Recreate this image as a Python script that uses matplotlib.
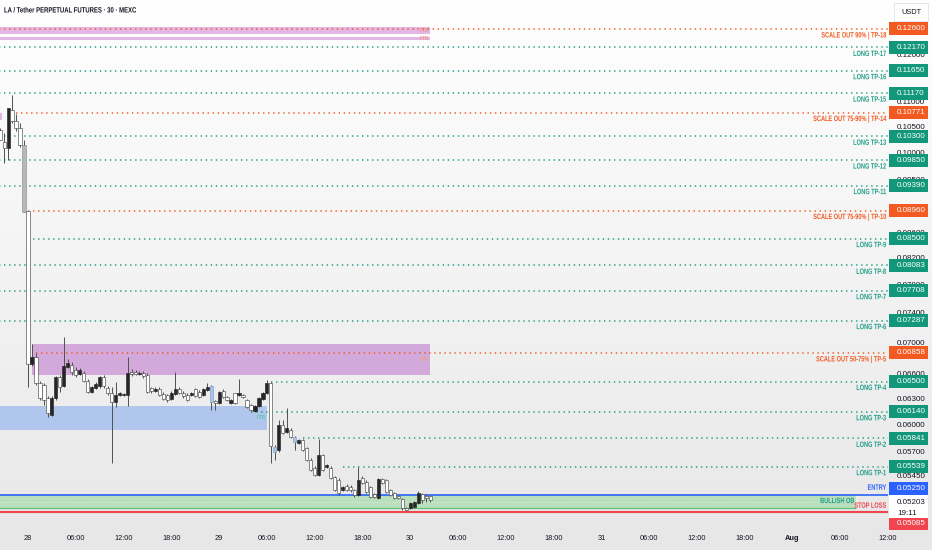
import numpy as np
import pandas as pd
import matplotlib
matplotlib.use('Agg')
import matplotlib.pyplot as plt
import matplotlib.dates as mdates
from matplotlib.patches import Rectangle
from matplotlib.patheffects import AbstractPathEffect
from matplotlib.transforms import IdentityTransform, blended_transform_factory, Affine2D

plt.rcParams['font.family'] = ['Liberation Sans', 'DejaVu Sans']

# ---------------- data ----------------
title = "LA / Tether PERPETUAL FUTURES · 30 · MEXC"
quote = "USDT"
start_time = "2025-07-27 20:30"

opens = [0.10424, 0.10192, 0.10078, 0.10823, 0.10601, 0.10463, 0.10134,
         0.08954, 0.06717, 0.06807, 0.06482, 0.06458, 0.06303, 0.06104, 0.06303, 0.06556, 0.06446,
         0.06680, 0.06705, 0.06642, 0.06593, 0.06605, 0.06507, 0.06374, 0.06422, 0.06446, 0.06556,
         0.06422, 0.06362, 0.06256, 0.06338, 0.06338, 0.06338, 0.06617, 0.06617, 0.06593, 0.06605,
         0.06580, 0.06422, 0.06386, 0.06410, 0.06350, 0.06338, 0.06291, 0.06350, 0.06410, 0.06362,
         0.06338, 0.06338, 0.06410, 0.06374, 0.06338, 0.06398, 0.06446, 0.06268, 0.06244, 0.06386,
         0.06315, 0.06244, 0.06362, 0.06338, 0.06338, 0.06279, 0.06221, 0.06151, 0.06209, 0.06291,
         0.06362, 0.06482, 0.05749, 0.05716, 0.05991, 0.05913, 0.05935, 0.05858, 0.05792, 0.05825,
         0.05738, 0.05610, 0.05527, 0.05455, 0.05663, 0.05537, 0.05527, 0.05434, 0.05404, 0.05303,
         0.05343, 0.05333, 0.05303, 0.05253, 0.05424, 0.05383, 0.05333, 0.05263, 0.05224, 0.05414,
         0.05404, 0.05303, 0.05273, 0.05244, 0.05214, 0.05127, 0.05127, 0.05136, 0.05175, 0.05263,
         0.05244, 0.05244]
highs = [0.10463, 0.10366, 0.10864, 0.11130, 0.10742, 0.10561, 0.10230,
         0.08954, 0.06975, 0.06858, 0.06507, 0.06482, 0.06327, 0.06327, 0.06568, 0.06580, 0.07067,
         0.06781, 0.06743, 0.06680, 0.06667, 0.06630, 0.06531, 0.06446, 0.06494, 0.06568, 0.06580,
         0.06446, 0.06434, 0.06494, 0.06374, 0.06362, 0.06807, 0.06655, 0.06642, 0.06630, 0.06630,
         0.06605, 0.06434, 0.06434, 0.06434, 0.06374, 0.06350, 0.06386, 0.06617, 0.06434, 0.06386,
         0.06362, 0.06374, 0.06422, 0.06398, 0.06422, 0.06482, 0.06458, 0.06279, 0.06386, 0.06410,
         0.06327, 0.06291, 0.06362, 0.06531, 0.06350, 0.06291, 0.06232, 0.06221, 0.06315, 0.06374,
         0.06519, 0.06494, 0.05770, 0.06047, 0.06047, 0.06186, 0.05958, 0.05869, 0.05836, 0.05836,
         0.05749, 0.05631, 0.05548, 0.05836, 0.05673, 0.05569, 0.05548, 0.05445, 0.05424, 0.05343,
         0.05363, 0.05353, 0.05313, 0.05537, 0.05445, 0.05404, 0.05343, 0.05273, 0.05424, 0.05424,
         0.05414, 0.05313, 0.05283, 0.05253, 0.05224, 0.05136, 0.05185, 0.05194, 0.05293, 0.05273,
         0.05263, 0.05253]
lows = [0.10230, 0.09798, 0.09853, 0.10561, 0.10404, 0.10097, 0.08937,
        0.06434, 0.06692, 0.06458, 0.06279, 0.06221, 0.06081, 0.06093, 0.06279, 0.06374, 0.06434,
        0.06667, 0.06580, 0.06556, 0.06580, 0.06494, 0.06362, 0.06362, 0.06410, 0.06422, 0.06422,
        0.06338, 0.05579, 0.06197, 0.06327, 0.06327, 0.06209, 0.06568, 0.06580, 0.06580, 0.06544,
        0.06362, 0.06362, 0.06374, 0.06327, 0.06279, 0.06256, 0.06279, 0.06338, 0.06350, 0.06303,
        0.06268, 0.06327, 0.06315, 0.06303, 0.06327, 0.06386, 0.06162, 0.06162, 0.06232, 0.06303,
        0.06268, 0.06232, 0.06232, 0.06327, 0.06303, 0.06186, 0.06151, 0.06139, 0.06197, 0.06279,
        0.06350, 0.05579, 0.05610, 0.05695, 0.05891, 0.05902, 0.05847, 0.05716, 0.05781, 0.05706,
        0.05600, 0.05496, 0.05445, 0.05445, 0.05496, 0.05527, 0.05414, 0.05293, 0.05253, 0.05293,
        0.05293, 0.05283, 0.05234, 0.05244, 0.05363, 0.05273, 0.05224, 0.05224, 0.05214, 0.05363,
        0.05273, 0.05244, 0.05214, 0.05214, 0.05108, 0.05098, 0.05117, 0.05127, 0.05165, 0.05175,
        0.05185, 0.05185]
closes = [0.10230, 0.10078, 0.10864, 0.10601, 0.10463, 0.10134, 0.08937,
          0.06717, 0.06807, 0.06482, 0.06303, 0.06279, 0.06127, 0.06303, 0.06556, 0.06434, 0.06692,
          0.06730, 0.06617, 0.06580, 0.06642, 0.06507, 0.06374, 0.06434, 0.06470, 0.06556, 0.06446,
          0.06362, 0.06256, 0.06338, 0.06362, 0.06350, 0.06605, 0.06593, 0.06593, 0.06605, 0.06568,
          0.06374, 0.06386, 0.06410, 0.06338, 0.06291, 0.06279, 0.06362, 0.06410, 0.06362, 0.06327,
          0.06279, 0.06362, 0.06327, 0.06315, 0.06410, 0.06434, 0.06256, 0.06244, 0.06374, 0.06315,
          0.06279, 0.06279, 0.06244, 0.06362, 0.06315, 0.06197, 0.06162, 0.06209, 0.06303, 0.06362,
          0.06482, 0.05760, 0.05695, 0.05991, 0.05902, 0.05958, 0.05858, 0.05803, 0.05825, 0.05716,
          0.05610, 0.05506, 0.05455, 0.05663, 0.05506, 0.05558, 0.05424, 0.05303, 0.05273, 0.05333,
          0.05303, 0.05303, 0.05253, 0.05404, 0.05373, 0.05283, 0.05234, 0.05234, 0.05414, 0.05373,
          0.05283, 0.05253, 0.05224, 0.05224, 0.05127, 0.05108, 0.05175, 0.05185, 0.05273, 0.05204,
          0.05224, 0.05204]

# candles drawn in other colours
grey_candles = ["2025-07-27 23:30"]
blue_candles = ["2025-07-28 23:00", "2025-07-29 07:00", "2025-07-29 09:30"]

# target / scale-out levels
level_prices = [0.12600, 0.12170, 0.11650, 0.11170, 0.10771, 0.10300, 0.09850, 0.09390, 0.08960,
                0.08500, 0.08083, 0.07708, 0.07287, 0.06858, 0.06500, 0.06140, 0.05841, 0.05539]
level_names = ["SCALE OUT 90% | TP-18", "LONG TP-17", "LONG TP-16", "LONG TP-15",
               "SCALE OUT 75-90% | TP-14", "LONG TP-13", "LONG TP-12", "LONG TP-11",
               "SCALE OUT 75-90% | TP-10", "LONG TP-9", "LONG TP-8", "LONG TP-7", "LONG TP-6",
               "SCALE OUT 50-75% | TP-5", "LONG TP-4", "LONG TP-3", "LONG TP-2", "LONG TP-1"]
level_is_scale = [True, False, False, False, True, False, False, False, True,
                  False, False, False, False, True, False, False, False, False]
level_starts = ["2025-07-27 18:00", "2025-07-27 18:00", "2025-07-27 18:00", "2025-07-27 18:00",
                "2025-07-27 22:30", "2025-07-27 18:00", "2025-07-27 18:00", "2025-07-27 18:00",
                "2025-07-28 00:00", "2025-07-28 00:00", "2025-07-27 18:00", "2025-07-27 18:00",
                "2025-07-27 18:00", "2025-07-28 01:00", "2025-07-29 06:30", "2025-07-29 04:00",
                "2025-07-29 10:30", "2025-07-29 15:30"]
line_end = "2025-08-01 14:00"

entry_price = 0.05250
stop_price = 0.05085
last_price = 0.05203
countdown = "19:11"

ob_top = 0.05250
ob_bottom = 0.05127
ob_start = "2025-07-27 18:00"
ob_end = "2025-08-01 08:00"

zone_tops = [0.12647, 0.12405, 0.10762, 0.06975, 0.06209]
zone_bottoms = [0.12482, 0.12343, 0.10622, 0.06580, 0.05935]
zone_starts = ["2025-07-27 18:00", "2025-07-27 18:00", "2025-07-27 18:00", "2025-07-28 00:30", "2025-07-27 18:00"]
zone_ends = ["2025-07-30 02:30", "2025-07-30 02:30", "2025-07-27 20:45", "2025-07-30 02:30", "2025-07-29 06:00"]
zone_colors = ["#e3b6e6", "#e3b6e6", "#e3b6e6", "#d3a8da", "#b0c6ec"]
zone_tags = ["FTB", "FTB", "", "FTB", "FTB"]
zone_tag_colors = ["#f08a7a", "#f08a7a", "#f08a7a", "#f5a26a", "#45c28a"]

y_ticks = [0.12000, 0.11000, 0.10500, 0.10000, 0.09500, 0.08600, 0.08200, 0.07800,
           0.07400, 0.07000, 0.06600, 0.06300, 0.06000, 0.05700, 0.05450]
x_tick_times = ["2025-07-28 00:00", "2025-07-28 06:00", "2025-07-28 12:00", "2025-07-28 18:00",
                "2025-07-29 00:00", "2025-07-29 06:00", "2025-07-29 12:00", "2025-07-29 18:00",
                "2025-07-30 00:00", "2025-07-30 06:00", "2025-07-30 12:00", "2025-07-30 18:00",
                "2025-07-31 00:00", "2025-07-31 06:00", "2025-07-31 12:00", "2025-07-31 18:00",
                "2025-08-01 00:00", "2025-08-01 06:00", "2025-08-01 12:00"]
x_tick_labels = ["28", "06:00", "12:00", "18:00", "29", "06:00", "12:00", "18:00",
                 "30", "06:00", "12:00", "18:00", "31", "06:00", "12:00", "18:00",
                 "Aug", "06:00", "12:00"]
x_view = ["2025-07-27 20:29", "2025-08-01 11:57"]
y_view = [0.04937, 0.13305]

# ---------------- style ----------------
GREEN_BOX = "#12977b"
GREEN_TXT = "#1f9e87"
ORANGE = "#f35a22"
BLUE = "#2962ff"
RED = "#f0444f"
TXT = "#131722"
LABEL_FS = 5.6
LABEL_FW = 'bold'
SQUEEZE = 0.72
PRICE_FS = 5.8


class HSqueeze(AbstractPathEffect):
    """Draw text horizontally condensed about a fixed display x (narrow font look)."""
    def __init__(self, sx, x0):
        super().__init__()
        self.sx, self.x0 = sx, x0

    def draw_path(self, renderer, gc, tpath, affine, rgbFace=None):
        a = affine + Affine2D().translate(-self.x0, 0).scale(self.sx, 1).translate(self.x0, 0)
        renderer.draw_path(gc, tpath, a, rgbFace)


def d(t):
    return mdates.date2num(pd.Timestamp(t).to_pydatetime())

W, H = 932, 550
fig = plt.figure(figsize=(W / 100, H / 100), dpi=100)

# background gradient
bg = fig.add_axes([0, 0, 1, 1], zorder=-10)
grad = np.linspace(0, 1, 256)[:, None]
bg.imshow(grad, aspect='auto', cmap=matplotlib.colors.LinearSegmentedColormap.from_list(
    'g', ['#ffffff', '#e7e7e7']), extent=[0, 1, 0, 1], origin='upper')
bg.set_axis_off()

PLOT_R = 888
PLOT_B = 22
ax = fig.add_axes([0, PLOT_B / H, PLOT_R / W, (H - PLOT_B) / H])
ax.set_facecolor('none')
ax.set_yscale('log')
ax.set_xlim(d(x_view[0]), d(x_view[1]))
ax.set_ylim(*y_view)
for s in ax.spines.values():
    s.set_visible(False)

RIGHT_TXT = PLOT_R - 2
squeeze_right = [HSqueeze(SQUEEZE, RIGHT_TXT)]

times = pd.date_range(start_time, periods=len(opens), freq='30min')
x = mdates.date2num(times.to_pydatetime())
o = np.array(opens); h = np.array(highs); l = np.array(lows); c = np.array(closes)
slot = 1.0 / 48

# zones
for top, bot, t0, t1, col, tag, tcol in zip(zone_tops, zone_bottoms, zone_starts, zone_ends,
                                            zone_colors, zone_tags, zone_tag_colors):
    ax.fill_between([d(t0), d(t1)], bot, top, color=col, lw=0, zorder=1)
    if tag:
        ax.annotate(tag, xy=(d(t1), np.sqrt(top * bot)), xytext=(-1, 0), textcoords='offset pixels',
                    ha='right', va='center', fontsize=3.6, color=tcol, zorder=2)

# bullish order block
ax.fill_between([d(ob_start), d(ob_end)], ob_bottom, ob_top, color='#b9dfbd', lw=0, zorder=1)
ax.hlines(ob_bottom, d(ob_start), d(ob_end), colors='#62bf78', lw=0.9, zorder=1.5)
ax.vlines(d(ob_end), ob_bottom, ob_top, colors='#e9f5ea', lw=0.9, zorder=1.5)
ax.hlines(np.sqrt(ob_top * ob_bottom), d(ob_start), d(ob_end), colors='#eef7ee',
          lw=0.6, linestyles=[(0, (1, 2))], zorder=1.5)
ob_right_px = ax.transData.transform((d(ob_end), ob_top))[0] - 2
ax.annotate("BULLISH OB", xy=(d(ob_end), np.sqrt(ob_top * ob_bottom)), xytext=(-2, 0),
            textcoords='offset pixels', ha='right', va='center', fontsize=LABEL_FS,
            color=GREEN_TXT, fontweight='bold', zorder=2,
            path_effects=[HSqueeze(SQUEEZE, ob_right_px)])

# levels
yblend = blended_transform_factory(ax.transAxes, ax.transData)
for p, name, sc, t0 in zip(level_prices, level_names, level_is_scale, level_starts):
    col = ORANGE if sc else GREEN_TXT
    ax.hlines(p, d(t0), d(line_end), colors=col, lw=1.1, linestyles=[(0, (0.9, 2.4))], zorder=2)
    ax.annotate(name, xy=(1, p), xycoords=yblend, xytext=(-2, -7), textcoords='offset pixels',
                ha='right', va='center', fontsize=LABEL_FS, fontweight=LABEL_FW, color=col,
                zorder=6, annotation_clip=False, path_effects=squeeze_right)

ax.axhline(entry_price, color=BLUE, lw=1.2, zorder=2)
ax.axhline(stop_price, color=RED, lw=1.5, zorder=2)
ax.annotate("ENTRY", xy=(1, entry_price), xycoords=yblend, xytext=(-2, 7), textcoords='offset pixels',
            ha='right', va='center', fontsize=LABEL_FS, fontweight=LABEL_FW, color=BLUE, zorder=6,
            path_effects=squeeze_right)
ax.annotate("STOP LOSS", xy=(1, stop_price), xycoords=yblend, xytext=(-2, 6), textcoords='offset pixels',
            ha='right', va='center', fontsize=LABEL_FS, fontweight=LABEL_FW, color=RED, zorder=6,
            path_effects=squeeze_right)

# candles
grey_set = set(pd.to_datetime(grey_candles))
blue_set = set(pd.to_datetime(blue_candles))
fcs, ecs = [], []
for t, oo, cc in zip(times, o, c):
    if t in grey_set:
        fcs.append('#b8b8b8'); ecs.append('#8c8c8c')
    elif t in blue_set:
        fcs.append('#a9c4ea'); ecs.append('#7d9cc9')
    elif cc >= oo:
        fcs.append('#262626'); ecs.append('#262626')
    else:
        fcs.append('#ffffff'); ecs.append('#4a4a4a')
ax.vlines(x, l, h, colors='#505050', lw=0.7, zorder=4)
ax.bar(x, np.abs(c - o), bottom=np.minimum(o, c), width=slot * 0.8, color=fcs,
       edgecolor=ecs, linewidth=0.45, zorder=5)

# axes ticks
ax.yaxis.tick_right()
ax.yaxis.set_minor_locator(matplotlib.ticker.NullLocator())
ax.set_yticks(y_ticks, [f"{v:.5f}" for v in y_ticks])
ax.tick_params(axis='y', length=0, pad=6.5, labelsize=PRICE_FS, labelcolor=TXT)
ax.set_xticks([d(t) for t in x_tick_times], x_tick_labels)
ax.tick_params(axis='x', length=0, pad=5, labelsize=5.3, labelcolor=TXT)
for lab in ax.get_xticklabels():
    if lab.get_text() == "Aug":
        lab.set_fontweight('bold')

# price labels in the right panel (pixel layout)
ident = IdentityTransform()
def ypix(p):
    return ax.transData.transform((d(x_view[0]), p))[1]

def price_tag(p, fc, tc, shift=0):
    yy = ypix(p) + shift
    fig.add_artist(Rectangle((889, yy - 6.5), 39, 13, transform=ident, fc=fc, ec='none', zorder=5))
    fig.text(897, yy, f"{p:.5f}", transform=ident, ha='left', va='center',
             fontsize=PRICE_FS, color=tc, zorder=6)

for p, sc in zip(level_prices, level_is_scale):
    price_tag(p, ORANGE if sc else GREEN_BOX, 'white')
price_tag(entry_price, BLUE, 'white', shift=7)
price_tag(stop_price, RED, 'white', shift=-11)
yl = ypix(last_price)
fig.add_artist(Rectangle((889, yl - 18), 39, 23, transform=ident, fc='white', ec='none', zorder=5))
fig.text(897, yl - 2, f"{last_price:.5f}", transform=ident, ha='left', va='center',
         fontsize=PRICE_FS, color=TXT, zorder=6)
fig.text(897, yl - 13, countdown, transform=ident, ha='left', va='center',
         fontsize=PRICE_FS, color=TXT, zorder=6)

# header texts
fig.add_artist(Rectangle((894, H - 21), 34, 18, transform=ident, fc='white', ec='#e0e3eb', lw=0.6, zorder=5))
fig.text(911, H - 12, quote, transform=ident, ha='center', va='center', fontsize=5.3, color=TXT, zorder=6)
fig.text(4, H - 11, title, transform=ident, ha='left', va='center', fontsize=5.5,
         fontweight='bold', color=TXT, path_effects=[HSqueeze(0.78, 4)])

fig.savefig("out.png", dpi=100)
